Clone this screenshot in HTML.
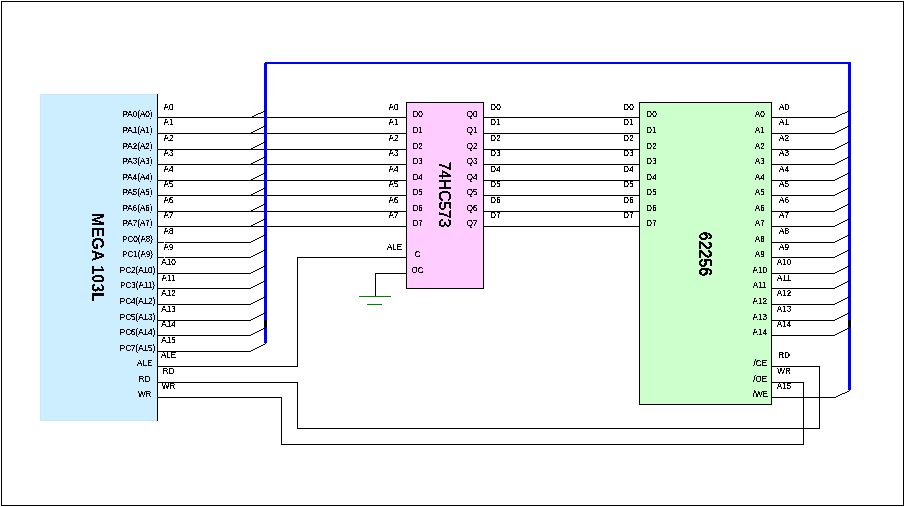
<!DOCTYPE html>
<html><head><meta charset="utf-8"><style>
html,body{margin:0;padding:0;background:#fff;width:905px;height:507px;overflow:hidden}
svg{position:absolute;left:0;top:0;display:block}
text{font-family:"Liberation Sans",sans-serif}
</style></head><body>
<svg width="905" height="507" viewBox="0 0 905 507">
<rect x="1" y="1" width="903" height="1" fill="#000"/>
<rect x="1" y="505" width="903" height="1" fill="#000"/>
<rect x="1" y="1" width="1" height="505" fill="#000"/>
<rect x="903" y="1" width="1" height="505" fill="#000"/>
<rect x="40" y="94" width="117" height="327" fill="#CCEEFF"/>
<rect x="157" y="94" width="1" height="327" fill="#000"/>
<rect x="40" y="94" width="117" height="1" fill="#C5E7FC"/>
<rect x="40" y="420" width="117" height="1" fill="#C5E7FC"/>
<rect x="40" y="94" width="1" height="327" fill="#C5E7FC"/>
<rect x="406" y="102" width="78" height="187" fill="#FFCCFF"/>
<rect x="639" y="102" width="133" height="303" fill="#CCFFCC"/>
<rect x="406" y="102" width="78" height="1" fill="#000"/>
<rect x="406" y="288" width="78" height="1" fill="#000"/>
<rect x="406" y="102" width="1" height="187" fill="#000"/>
<rect x="483" y="102" width="1" height="187" fill="#000"/>
<rect x="639" y="102" width="133" height="1" fill="#000"/>
<rect x="639" y="404" width="133" height="1" fill="#000"/>
<rect x="639" y="102" width="1" height="303" fill="#000"/>
<rect x="771" y="102" width="1" height="303" fill="#000"/>
<rect x="158" y="117" width="248" height="1" fill="#000"/>
<rect x="158" y="133" width="248" height="1" fill="#000"/>
<rect x="158" y="149" width="248" height="1" fill="#000"/>
<rect x="158" y="164" width="248" height="1" fill="#000"/>
<rect x="158" y="180" width="248" height="1" fill="#000"/>
<rect x="158" y="195" width="248" height="1" fill="#000"/>
<rect x="158" y="211" width="248" height="1" fill="#000"/>
<rect x="158" y="226" width="248" height="1" fill="#000"/>
<rect x="158" y="242" width="93" height="1" fill="#000"/>
<rect x="158" y="257" width="93" height="1" fill="#000"/>
<rect x="158" y="273" width="93" height="1" fill="#000"/>
<rect x="158" y="288" width="93" height="1" fill="#000"/>
<rect x="158" y="304" width="93" height="1" fill="#000"/>
<rect x="158" y="320" width="93" height="1" fill="#000"/>
<rect x="158" y="335" width="93" height="1" fill="#000"/>
<rect x="158" y="351" width="93" height="1" fill="#000"/>
<rect x="158" y="366" width="140" height="1" fill="#000"/>
<rect x="297" y="257" width="1" height="110" fill="#000"/>
<rect x="297" y="257" width="109" height="1" fill="#000"/>
<rect x="158" y="382" width="140" height="1" fill="#000"/>
<rect x="297" y="382" width="1" height="47" fill="#000"/>
<rect x="297" y="428" width="523" height="1" fill="#000"/>
<rect x="819" y="366" width="1" height="63" fill="#000"/>
<rect x="772" y="366" width="48" height="1" fill="#000"/>
<rect x="158" y="397" width="124" height="1" fill="#000"/>
<rect x="281" y="397" width="1" height="48" fill="#000"/>
<rect x="281" y="444" width="523" height="1" fill="#000"/>
<rect x="803" y="382" width="1" height="63" fill="#000"/>
<rect x="772" y="382" width="32" height="1" fill="#000"/>
<rect x="375" y="273" width="31" height="1" fill="#000"/>
<rect x="375" y="273" width="1" height="24" fill="#000"/>
<rect x="359" y="296" width="32" height="1" fill="#008000"/>
<rect x="367" y="304" width="15" height="1" fill="#008000"/>
<rect x="484" y="117" width="155" height="1" fill="#000"/>
<rect x="484" y="133" width="155" height="1" fill="#000"/>
<rect x="484" y="149" width="155" height="1" fill="#000"/>
<rect x="484" y="164" width="155" height="1" fill="#000"/>
<rect x="484" y="180" width="155" height="1" fill="#000"/>
<rect x="484" y="195" width="155" height="1" fill="#000"/>
<rect x="484" y="211" width="155" height="1" fill="#000"/>
<rect x="484" y="226" width="155" height="1" fill="#000"/>
<rect x="772" y="117" width="64" height="1" fill="#000"/>
<rect x="772" y="133" width="63" height="1" fill="#000"/>
<rect x="772" y="149" width="63" height="1" fill="#000"/>
<rect x="772" y="164" width="63" height="1" fill="#000"/>
<rect x="772" y="180" width="63" height="1" fill="#000"/>
<rect x="772" y="195" width="63" height="1" fill="#000"/>
<rect x="772" y="211" width="63" height="1" fill="#000"/>
<rect x="772" y="226" width="63" height="1" fill="#000"/>
<rect x="772" y="242" width="63" height="1" fill="#000"/>
<rect x="772" y="257" width="63" height="1" fill="#000"/>
<rect x="772" y="273" width="63" height="1" fill="#000"/>
<rect x="772" y="288" width="63" height="1" fill="#000"/>
<rect x="772" y="304" width="63" height="1" fill="#000"/>
<rect x="772" y="320" width="63" height="1" fill="#000"/>
<rect x="772" y="335" width="63" height="1" fill="#000"/>
<rect x="772" y="397" width="64" height="1" fill="#000"/>
<rect x="264" y="62" width="3" height="281" fill="#0000FF"/>
<rect x="264" y="62" width="587" height="2" fill="#0000FF"/>
<rect x="848" y="62" width="3" height="328" fill="#0000FF"/>
<rect x="264" y="320" width="3" height="7" fill="#000"/>
<rect x="848" y="320" width="3" height="7" fill="#000"/>
<rect x="264" y="62" width="1" height="1" fill="#fff"/>
<rect x="164" y="242" width="1" height="1" fill="#fff"/>
<rect x="164" y="257" width="1" height="1" fill="#fff"/>
<rect x="252" y="116" width="2" height="1" fill="#000"/>
<rect x="254" y="115" width="2" height="1" fill="#000"/>
<rect x="256" y="114" width="2" height="1" fill="#000"/>
<rect x="258" y="113" width="3" height="1" fill="#000"/>
<rect x="261" y="112" width="2" height="1" fill="#000"/>
<rect x="263" y="111" width="2" height="1" fill="#000"/>
<rect x="265" y="110" width="1" height="1" fill="#000"/>
<rect x="251" y="132" width="2" height="1" fill="#000"/>
<rect x="253" y="131" width="2" height="1" fill="#000"/>
<rect x="255" y="130" width="2" height="1" fill="#000"/>
<rect x="257" y="129" width="2" height="1" fill="#000"/>
<rect x="259" y="128" width="2" height="1" fill="#000"/>
<rect x="261" y="127" width="2" height="1" fill="#000"/>
<rect x="263" y="126" width="2" height="1" fill="#000"/>
<rect x="265" y="125" width="1" height="1" fill="#000"/>
<rect x="251" y="148" width="2" height="1" fill="#000"/>
<rect x="253" y="147" width="2" height="1" fill="#000"/>
<rect x="255" y="146" width="2" height="1" fill="#000"/>
<rect x="257" y="145" width="2" height="1" fill="#000"/>
<rect x="259" y="144" width="2" height="1" fill="#000"/>
<rect x="261" y="143" width="2" height="1" fill="#000"/>
<rect x="263" y="142" width="2" height="1" fill="#000"/>
<rect x="265" y="141" width="1" height="1" fill="#000"/>
<rect x="251" y="163" width="2" height="1" fill="#000"/>
<rect x="253" y="162" width="2" height="1" fill="#000"/>
<rect x="255" y="161" width="2" height="1" fill="#000"/>
<rect x="257" y="160" width="2" height="1" fill="#000"/>
<rect x="259" y="159" width="2" height="1" fill="#000"/>
<rect x="261" y="158" width="2" height="1" fill="#000"/>
<rect x="263" y="157" width="2" height="1" fill="#000"/>
<rect x="265" y="156" width="1" height="1" fill="#000"/>
<rect x="251" y="179" width="2" height="1" fill="#000"/>
<rect x="253" y="178" width="2" height="1" fill="#000"/>
<rect x="255" y="177" width="2" height="1" fill="#000"/>
<rect x="257" y="176" width="2" height="1" fill="#000"/>
<rect x="259" y="175" width="2" height="1" fill="#000"/>
<rect x="261" y="174" width="2" height="1" fill="#000"/>
<rect x="263" y="173" width="2" height="1" fill="#000"/>
<rect x="265" y="172" width="1" height="1" fill="#000"/>
<rect x="251" y="194" width="2" height="1" fill="#000"/>
<rect x="253" y="193" width="2" height="1" fill="#000"/>
<rect x="255" y="192" width="2" height="1" fill="#000"/>
<rect x="257" y="191" width="2" height="1" fill="#000"/>
<rect x="259" y="190" width="2" height="1" fill="#000"/>
<rect x="261" y="189" width="2" height="1" fill="#000"/>
<rect x="263" y="188" width="2" height="1" fill="#000"/>
<rect x="265" y="187" width="1" height="1" fill="#000"/>
<rect x="251" y="210" width="2" height="1" fill="#000"/>
<rect x="253" y="209" width="2" height="1" fill="#000"/>
<rect x="255" y="208" width="2" height="1" fill="#000"/>
<rect x="257" y="207" width="2" height="1" fill="#000"/>
<rect x="259" y="206" width="2" height="1" fill="#000"/>
<rect x="261" y="205" width="2" height="1" fill="#000"/>
<rect x="263" y="204" width="2" height="1" fill="#000"/>
<rect x="265" y="203" width="1" height="1" fill="#000"/>
<rect x="251" y="225" width="2" height="1" fill="#000"/>
<rect x="253" y="224" width="2" height="1" fill="#000"/>
<rect x="255" y="223" width="2" height="1" fill="#000"/>
<rect x="257" y="222" width="2" height="1" fill="#000"/>
<rect x="259" y="221" width="2" height="1" fill="#000"/>
<rect x="261" y="220" width="2" height="1" fill="#000"/>
<rect x="263" y="219" width="2" height="1" fill="#000"/>
<rect x="265" y="218" width="1" height="1" fill="#000"/>
<rect x="251" y="241" width="2" height="1" fill="#000"/>
<rect x="253" y="240" width="2" height="1" fill="#000"/>
<rect x="255" y="239" width="2" height="1" fill="#000"/>
<rect x="257" y="238" width="2" height="1" fill="#000"/>
<rect x="259" y="237" width="2" height="1" fill="#000"/>
<rect x="261" y="236" width="2" height="1" fill="#000"/>
<rect x="263" y="235" width="2" height="1" fill="#000"/>
<rect x="265" y="234" width="1" height="1" fill="#000"/>
<rect x="251" y="256" width="2" height="1" fill="#000"/>
<rect x="253" y="255" width="2" height="1" fill="#000"/>
<rect x="255" y="254" width="2" height="1" fill="#000"/>
<rect x="257" y="253" width="2" height="1" fill="#000"/>
<rect x="259" y="252" width="2" height="1" fill="#000"/>
<rect x="261" y="251" width="2" height="1" fill="#000"/>
<rect x="263" y="250" width="2" height="1" fill="#000"/>
<rect x="265" y="249" width="1" height="1" fill="#000"/>
<rect x="251" y="272" width="2" height="1" fill="#000"/>
<rect x="253" y="271" width="2" height="1" fill="#000"/>
<rect x="255" y="270" width="2" height="1" fill="#000"/>
<rect x="257" y="269" width="2" height="1" fill="#000"/>
<rect x="259" y="268" width="2" height="1" fill="#000"/>
<rect x="261" y="267" width="2" height="1" fill="#000"/>
<rect x="263" y="266" width="2" height="1" fill="#000"/>
<rect x="265" y="265" width="1" height="1" fill="#000"/>
<rect x="251" y="287" width="2" height="1" fill="#000"/>
<rect x="253" y="286" width="2" height="1" fill="#000"/>
<rect x="255" y="285" width="2" height="1" fill="#000"/>
<rect x="257" y="284" width="2" height="1" fill="#000"/>
<rect x="259" y="283" width="2" height="1" fill="#000"/>
<rect x="261" y="282" width="2" height="1" fill="#000"/>
<rect x="263" y="281" width="2" height="1" fill="#000"/>
<rect x="265" y="280" width="1" height="1" fill="#000"/>
<rect x="251" y="303" width="2" height="1" fill="#000"/>
<rect x="253" y="302" width="2" height="1" fill="#000"/>
<rect x="255" y="301" width="2" height="1" fill="#000"/>
<rect x="257" y="300" width="2" height="1" fill="#000"/>
<rect x="259" y="299" width="2" height="1" fill="#000"/>
<rect x="261" y="298" width="2" height="1" fill="#000"/>
<rect x="263" y="297" width="2" height="1" fill="#000"/>
<rect x="265" y="296" width="1" height="1" fill="#000"/>
<rect x="251" y="319" width="2" height="1" fill="#000"/>
<rect x="253" y="318" width="2" height="1" fill="#000"/>
<rect x="255" y="317" width="2" height="1" fill="#000"/>
<rect x="257" y="316" width="2" height="1" fill="#000"/>
<rect x="259" y="315" width="2" height="1" fill="#000"/>
<rect x="261" y="314" width="2" height="1" fill="#000"/>
<rect x="263" y="313" width="2" height="1" fill="#000"/>
<rect x="265" y="312" width="1" height="1" fill="#000"/>
<rect x="251" y="334" width="2" height="1" fill="#000"/>
<rect x="253" y="333" width="2" height="1" fill="#000"/>
<rect x="255" y="332" width="2" height="1" fill="#000"/>
<rect x="257" y="331" width="2" height="1" fill="#000"/>
<rect x="259" y="330" width="2" height="1" fill="#000"/>
<rect x="261" y="329" width="2" height="1" fill="#000"/>
<rect x="263" y="328" width="2" height="1" fill="#000"/>
<rect x="265" y="327" width="1" height="1" fill="#000"/>
<rect x="251" y="350" width="2" height="1" fill="#000"/>
<rect x="253" y="349" width="2" height="1" fill="#000"/>
<rect x="255" y="348" width="2" height="1" fill="#000"/>
<rect x="257" y="347" width="2" height="1" fill="#000"/>
<rect x="259" y="346" width="2" height="1" fill="#000"/>
<rect x="261" y="345" width="2" height="1" fill="#000"/>
<rect x="263" y="344" width="2" height="1" fill="#000"/>
<rect x="265" y="343" width="1" height="1" fill="#000"/>
<rect x="836" y="116" width="2" height="1" fill="#000"/>
<rect x="838" y="115" width="2" height="1" fill="#000"/>
<rect x="840" y="114" width="2" height="1" fill="#000"/>
<rect x="842" y="113" width="3" height="1" fill="#000"/>
<rect x="845" y="112" width="2" height="1" fill="#000"/>
<rect x="847" y="111" width="2" height="1" fill="#000"/>
<rect x="849" y="110" width="1" height="1" fill="#000"/>
<rect x="835" y="132" width="2" height="1" fill="#000"/>
<rect x="837" y="131" width="2" height="1" fill="#000"/>
<rect x="839" y="130" width="2" height="1" fill="#000"/>
<rect x="841" y="129" width="2" height="1" fill="#000"/>
<rect x="843" y="128" width="2" height="1" fill="#000"/>
<rect x="845" y="127" width="2" height="1" fill="#000"/>
<rect x="847" y="126" width="2" height="1" fill="#000"/>
<rect x="849" y="125" width="1" height="1" fill="#000"/>
<rect x="835" y="148" width="2" height="1" fill="#000"/>
<rect x="837" y="147" width="2" height="1" fill="#000"/>
<rect x="839" y="146" width="2" height="1" fill="#000"/>
<rect x="841" y="145" width="2" height="1" fill="#000"/>
<rect x="843" y="144" width="2" height="1" fill="#000"/>
<rect x="845" y="143" width="2" height="1" fill="#000"/>
<rect x="847" y="142" width="2" height="1" fill="#000"/>
<rect x="849" y="141" width="1" height="1" fill="#000"/>
<rect x="835" y="163" width="2" height="1" fill="#000"/>
<rect x="837" y="162" width="2" height="1" fill="#000"/>
<rect x="839" y="161" width="2" height="1" fill="#000"/>
<rect x="841" y="160" width="2" height="1" fill="#000"/>
<rect x="843" y="159" width="2" height="1" fill="#000"/>
<rect x="845" y="158" width="2" height="1" fill="#000"/>
<rect x="847" y="157" width="2" height="1" fill="#000"/>
<rect x="849" y="156" width="1" height="1" fill="#000"/>
<rect x="835" y="179" width="2" height="1" fill="#000"/>
<rect x="837" y="178" width="2" height="1" fill="#000"/>
<rect x="839" y="177" width="2" height="1" fill="#000"/>
<rect x="841" y="176" width="2" height="1" fill="#000"/>
<rect x="843" y="175" width="2" height="1" fill="#000"/>
<rect x="845" y="174" width="2" height="1" fill="#000"/>
<rect x="847" y="173" width="2" height="1" fill="#000"/>
<rect x="849" y="172" width="1" height="1" fill="#000"/>
<rect x="835" y="194" width="2" height="1" fill="#000"/>
<rect x="837" y="193" width="2" height="1" fill="#000"/>
<rect x="839" y="192" width="2" height="1" fill="#000"/>
<rect x="841" y="191" width="2" height="1" fill="#000"/>
<rect x="843" y="190" width="2" height="1" fill="#000"/>
<rect x="845" y="189" width="2" height="1" fill="#000"/>
<rect x="847" y="188" width="2" height="1" fill="#000"/>
<rect x="849" y="187" width="1" height="1" fill="#000"/>
<rect x="835" y="210" width="2" height="1" fill="#000"/>
<rect x="837" y="209" width="2" height="1" fill="#000"/>
<rect x="839" y="208" width="2" height="1" fill="#000"/>
<rect x="841" y="207" width="2" height="1" fill="#000"/>
<rect x="843" y="206" width="2" height="1" fill="#000"/>
<rect x="845" y="205" width="2" height="1" fill="#000"/>
<rect x="847" y="204" width="2" height="1" fill="#000"/>
<rect x="849" y="203" width="1" height="1" fill="#000"/>
<rect x="835" y="225" width="2" height="1" fill="#000"/>
<rect x="837" y="224" width="2" height="1" fill="#000"/>
<rect x="839" y="223" width="2" height="1" fill="#000"/>
<rect x="841" y="222" width="2" height="1" fill="#000"/>
<rect x="843" y="221" width="2" height="1" fill="#000"/>
<rect x="845" y="220" width="2" height="1" fill="#000"/>
<rect x="847" y="219" width="2" height="1" fill="#000"/>
<rect x="849" y="218" width="1" height="1" fill="#000"/>
<rect x="835" y="241" width="2" height="1" fill="#000"/>
<rect x="837" y="240" width="2" height="1" fill="#000"/>
<rect x="839" y="239" width="2" height="1" fill="#000"/>
<rect x="841" y="238" width="2" height="1" fill="#000"/>
<rect x="843" y="237" width="2" height="1" fill="#000"/>
<rect x="845" y="236" width="2" height="1" fill="#000"/>
<rect x="847" y="235" width="2" height="1" fill="#000"/>
<rect x="849" y="234" width="1" height="1" fill="#000"/>
<rect x="835" y="256" width="2" height="1" fill="#000"/>
<rect x="837" y="255" width="2" height="1" fill="#000"/>
<rect x="839" y="254" width="2" height="1" fill="#000"/>
<rect x="841" y="253" width="2" height="1" fill="#000"/>
<rect x="843" y="252" width="2" height="1" fill="#000"/>
<rect x="845" y="251" width="2" height="1" fill="#000"/>
<rect x="847" y="250" width="2" height="1" fill="#000"/>
<rect x="849" y="249" width="1" height="1" fill="#000"/>
<rect x="835" y="272" width="2" height="1" fill="#000"/>
<rect x="837" y="271" width="2" height="1" fill="#000"/>
<rect x="839" y="270" width="2" height="1" fill="#000"/>
<rect x="841" y="269" width="2" height="1" fill="#000"/>
<rect x="843" y="268" width="2" height="1" fill="#000"/>
<rect x="845" y="267" width="2" height="1" fill="#000"/>
<rect x="847" y="266" width="2" height="1" fill="#000"/>
<rect x="849" y="265" width="1" height="1" fill="#000"/>
<rect x="835" y="287" width="2" height="1" fill="#000"/>
<rect x="837" y="286" width="2" height="1" fill="#000"/>
<rect x="839" y="285" width="2" height="1" fill="#000"/>
<rect x="841" y="284" width="2" height="1" fill="#000"/>
<rect x="843" y="283" width="2" height="1" fill="#000"/>
<rect x="845" y="282" width="2" height="1" fill="#000"/>
<rect x="847" y="281" width="2" height="1" fill="#000"/>
<rect x="849" y="280" width="1" height="1" fill="#000"/>
<rect x="835" y="303" width="2" height="1" fill="#000"/>
<rect x="837" y="302" width="2" height="1" fill="#000"/>
<rect x="839" y="301" width="2" height="1" fill="#000"/>
<rect x="841" y="300" width="2" height="1" fill="#000"/>
<rect x="843" y="299" width="2" height="1" fill="#000"/>
<rect x="845" y="298" width="2" height="1" fill="#000"/>
<rect x="847" y="297" width="2" height="1" fill="#000"/>
<rect x="849" y="296" width="1" height="1" fill="#000"/>
<rect x="835" y="319" width="2" height="1" fill="#000"/>
<rect x="837" y="318" width="2" height="1" fill="#000"/>
<rect x="839" y="317" width="2" height="1" fill="#000"/>
<rect x="841" y="316" width="2" height="1" fill="#000"/>
<rect x="843" y="315" width="2" height="1" fill="#000"/>
<rect x="845" y="314" width="2" height="1" fill="#000"/>
<rect x="847" y="313" width="2" height="1" fill="#000"/>
<rect x="849" y="312" width="1" height="1" fill="#000"/>
<rect x="835" y="334" width="2" height="1" fill="#000"/>
<rect x="837" y="333" width="2" height="1" fill="#000"/>
<rect x="839" y="332" width="2" height="1" fill="#000"/>
<rect x="841" y="331" width="2" height="1" fill="#000"/>
<rect x="843" y="330" width="2" height="1" fill="#000"/>
<rect x="845" y="329" width="2" height="1" fill="#000"/>
<rect x="847" y="328" width="2" height="1" fill="#000"/>
<rect x="849" y="327" width="1" height="1" fill="#000"/>
<rect x="836" y="396" width="2" height="1" fill="#000"/>
<rect x="838" y="395" width="2" height="1" fill="#000"/>
<rect x="840" y="394" width="2" height="1" fill="#000"/>
<rect x="842" y="393" width="3" height="1" fill="#000"/>
<rect x="845" y="392" width="2" height="1" fill="#000"/>
<rect x="847" y="391" width="2" height="1" fill="#000"/>
<rect x="849" y="390" width="1" height="1" fill="#000"/>
<defs><filter id="crisp" x="0" y="0" width="100%" height="100%" filterUnits="userSpaceOnUse"><feComponentTransfer><feFuncA type="discrete" tableValues="0 0 0 0 0 0 0 1 1 1 1 1 1 1 1 1 1 1 1 1"/></feComponentTransfer></filter><filter id="crisp3" x="0" y="0" width="100%" height="100%" filterUnits="userSpaceOnUse"><feComponentTransfer><feFuncA type="discrete" tableValues="0 0 1 1 1 1 1 1 1 1"/></feComponentTransfer></filter><filter id="crisp2" x="0" y="0" width="100%" height="100%" filterUnits="userSpaceOnUse"><feComponentTransfer><feFuncA type="discrete" tableValues="0 0 0 0 0 1 1 1 1 1"/></feComponentTransfer></filter></defs>
<g font-family="Liberation Sans" fill="#000" filter="url(#crisp)">
<text transform="translate(137.5,117) scale(0.95,1)" font-size="8.5" text-anchor="middle">PA0(A0)</text>
<text transform="translate(137.5,133) scale(0.95,1)" font-size="8.5" text-anchor="middle">PA1(A1)</text>
<text transform="translate(137.5,149) scale(0.95,1)" font-size="8.5" text-anchor="middle">PA2(A2)</text>
<text transform="translate(137.5,164) scale(0.95,1)" font-size="8.5" text-anchor="middle">PA3(A3)</text>
<text transform="translate(137.5,180) scale(0.95,1)" font-size="8.5" text-anchor="middle">PA4(A4)</text>
<text transform="translate(137.5,195) scale(0.95,1)" font-size="8.5" text-anchor="middle">PA5(A5)</text>
<text transform="translate(137.5,211) scale(0.95,1)" font-size="8.5" text-anchor="middle">PA6(A6)</text>
<text transform="translate(137.5,226) scale(0.95,1)" font-size="8.5" text-anchor="middle">PA7(A7)</text>
<text transform="translate(137.5,242) scale(0.95,1)" font-size="8.5" text-anchor="middle">PC0(A8)</text>
<text transform="translate(137.5,257) scale(0.95,1)" font-size="8.5" text-anchor="middle">PC1(A9)</text>
<text transform="translate(137.5,273) scale(0.95,1)" font-size="8.5" text-anchor="middle">PC2(A10)</text>
<text transform="translate(137.5,288) scale(0.95,1)" font-size="8.5" text-anchor="middle">PC3(A11)</text>
<text transform="translate(137.5,304) scale(0.95,1)" font-size="8.5" text-anchor="middle">PC4(A12)</text>
<text transform="translate(137.5,320) scale(0.95,1)" font-size="8.5" text-anchor="middle">PC5(A13)</text>
<text transform="translate(137.5,335) scale(0.95,1)" font-size="8.5" text-anchor="middle">PC6(A14)</text>
<text transform="translate(137.5,351) scale(0.95,1)" font-size="8.5" text-anchor="middle">PC7(A15)</text>
<text transform="translate(144.7,366) scale(0.95,1)" font-size="8.5" text-anchor="middle">ALE</text>
<text transform="translate(144.7,382) scale(0.95,1)" font-size="8.5" text-anchor="middle">RD</text>
<text transform="translate(144.7,397) scale(0.95,1)" font-size="8.5" text-anchor="middle">WR</text>
<text transform="translate(168.5,110) scale(0.95,1)" font-size="8.5" text-anchor="middle">A0</text>
<text transform="translate(168.5,125) scale(0.95,1)" font-size="8.5" text-anchor="middle">A1</text>
<text transform="translate(168.5,141) scale(0.95,1)" font-size="8.5" text-anchor="middle">A2</text>
<text transform="translate(168.5,156) scale(0.95,1)" font-size="8.5" text-anchor="middle">A3</text>
<text transform="translate(168.5,172) scale(0.95,1)" font-size="8.5" text-anchor="middle">A4</text>
<text transform="translate(168.5,187) scale(0.95,1)" font-size="8.5" text-anchor="middle">A5</text>
<text transform="translate(168.5,203) scale(0.95,1)" font-size="8.5" text-anchor="middle">A6</text>
<text transform="translate(168.5,218) scale(0.95,1)" font-size="8.5" text-anchor="middle">A7</text>
<text transform="translate(168.5,234) scale(0.95,1)" font-size="8.5" text-anchor="middle">A8</text>
<text transform="translate(168.5,250) scale(0.95,1)" font-size="8.5" text-anchor="middle">A9</text>
<text transform="translate(168.5,265) scale(0.95,1)" font-size="8.5" text-anchor="middle">A10</text>
<text transform="translate(168.5,281) scale(0.95,1)" font-size="8.5" text-anchor="middle">A11</text>
<text transform="translate(168.5,296) scale(0.95,1)" font-size="8.5" text-anchor="middle">A12</text>
<text transform="translate(168.5,312) scale(0.95,1)" font-size="8.5" text-anchor="middle">A13</text>
<text transform="translate(168.5,327) scale(0.95,1)" font-size="8.5" text-anchor="middle">A14</text>
<text transform="translate(168.5,343) scale(0.95,1)" font-size="8.5" text-anchor="middle">A15</text>
<text transform="translate(168.5,358) scale(0.95,1)" font-size="8.5" text-anchor="middle">ALE</text>
<text transform="translate(168.5,374) scale(0.95,1)" font-size="8.5" text-anchor="middle">RD</text>
<text transform="translate(168.5,389) scale(0.95,1)" font-size="8.5" text-anchor="middle">WR</text>
<text transform="translate(393.5,110) scale(0.95,1)" font-size="8.5" text-anchor="middle">A0</text>
<text transform="translate(417.6,117) scale(0.95,1)" font-size="8.5" text-anchor="middle">D0</text>
<text transform="translate(472.2,117) scale(0.95,1)" font-size="8.5" text-anchor="middle">Q0</text>
<text transform="translate(495.5,110) scale(0.95,1)" font-size="8.5" text-anchor="middle">D0</text>
<text transform="translate(628.5,110) scale(0.95,1)" font-size="8.5" text-anchor="middle">D0</text>
<text transform="translate(651.5,117) scale(0.95,1)" font-size="8.5" text-anchor="middle">D0</text>
<text transform="translate(393.5,125) scale(0.95,1)" font-size="8.5" text-anchor="middle">A1</text>
<text transform="translate(417.6,133) scale(0.95,1)" font-size="8.5" text-anchor="middle">D1</text>
<text transform="translate(472.2,133) scale(0.95,1)" font-size="8.5" text-anchor="middle">Q1</text>
<text transform="translate(495.5,125) scale(0.95,1)" font-size="8.5" text-anchor="middle">D1</text>
<text transform="translate(628.5,125) scale(0.95,1)" font-size="8.5" text-anchor="middle">D1</text>
<text transform="translate(651.5,133) scale(0.95,1)" font-size="8.5" text-anchor="middle">D1</text>
<text transform="translate(393.5,141) scale(0.95,1)" font-size="8.5" text-anchor="middle">A2</text>
<text transform="translate(417.6,149) scale(0.95,1)" font-size="8.5" text-anchor="middle">D2</text>
<text transform="translate(472.2,149) scale(0.95,1)" font-size="8.5" text-anchor="middle">Q2</text>
<text transform="translate(495.5,141) scale(0.95,1)" font-size="8.5" text-anchor="middle">D2</text>
<text transform="translate(628.5,141) scale(0.95,1)" font-size="8.5" text-anchor="middle">D2</text>
<text transform="translate(651.5,149) scale(0.95,1)" font-size="8.5" text-anchor="middle">D2</text>
<text transform="translate(393.5,156) scale(0.95,1)" font-size="8.5" text-anchor="middle">A3</text>
<text transform="translate(417.6,164) scale(0.95,1)" font-size="8.5" text-anchor="middle">D3</text>
<text transform="translate(472.2,164) scale(0.95,1)" font-size="8.5" text-anchor="middle">Q3</text>
<text transform="translate(495.5,156) scale(0.95,1)" font-size="8.5" text-anchor="middle">D3</text>
<text transform="translate(628.5,156) scale(0.95,1)" font-size="8.5" text-anchor="middle">D3</text>
<text transform="translate(651.5,164) scale(0.95,1)" font-size="8.5" text-anchor="middle">D3</text>
<text transform="translate(393.5,172) scale(0.95,1)" font-size="8.5" text-anchor="middle">A4</text>
<text transform="translate(417.6,180) scale(0.95,1)" font-size="8.5" text-anchor="middle">D4</text>
<text transform="translate(472.2,180) scale(0.95,1)" font-size="8.5" text-anchor="middle">Q4</text>
<text transform="translate(495.5,172) scale(0.95,1)" font-size="8.5" text-anchor="middle">D4</text>
<text transform="translate(628.5,172) scale(0.95,1)" font-size="8.5" text-anchor="middle">D4</text>
<text transform="translate(651.5,180) scale(0.95,1)" font-size="8.5" text-anchor="middle">D4</text>
<text transform="translate(393.5,187) scale(0.95,1)" font-size="8.5" text-anchor="middle">A5</text>
<text transform="translate(417.6,195) scale(0.95,1)" font-size="8.5" text-anchor="middle">D5</text>
<text transform="translate(472.2,195) scale(0.95,1)" font-size="8.5" text-anchor="middle">Q5</text>
<text transform="translate(495.5,187) scale(0.95,1)" font-size="8.5" text-anchor="middle">D5</text>
<text transform="translate(628.5,187) scale(0.95,1)" font-size="8.5" text-anchor="middle">D5</text>
<text transform="translate(651.5,195) scale(0.95,1)" font-size="8.5" text-anchor="middle">D5</text>
<text transform="translate(393.5,203) scale(0.95,1)" font-size="8.5" text-anchor="middle">A6</text>
<text transform="translate(417.6,211) scale(0.95,1)" font-size="8.5" text-anchor="middle">D6</text>
<text transform="translate(472.2,211) scale(0.95,1)" font-size="8.5" text-anchor="middle">Q6</text>
<text transform="translate(495.5,203) scale(0.95,1)" font-size="8.5" text-anchor="middle">D6</text>
<text transform="translate(628.5,203) scale(0.95,1)" font-size="8.5" text-anchor="middle">D6</text>
<text transform="translate(651.5,211) scale(0.95,1)" font-size="8.5" text-anchor="middle">D6</text>
<text transform="translate(393.5,218) scale(0.95,1)" font-size="8.5" text-anchor="middle">A7</text>
<text transform="translate(417.6,226) scale(0.95,1)" font-size="8.5" text-anchor="middle">D7</text>
<text transform="translate(472.2,226) scale(0.95,1)" font-size="8.5" text-anchor="middle">Q7</text>
<text transform="translate(495.5,218) scale(0.95,1)" font-size="8.5" text-anchor="middle">D7</text>
<text transform="translate(628.5,218) scale(0.95,1)" font-size="8.5" text-anchor="middle">D7</text>
<text transform="translate(651.5,226) scale(0.95,1)" font-size="8.5" text-anchor="middle">D7</text>
<text transform="translate(394.5,250) scale(0.95,1)" font-size="8.5" text-anchor="middle">ALE</text>
<text transform="translate(417.6,257) scale(0.95,1)" font-size="8.5" text-anchor="middle">C</text>
<text transform="translate(417.6,273) scale(0.95,1)" font-size="8.5" text-anchor="middle">OC</text>
<text transform="translate(759.7,117) scale(0.95,1)" font-size="8.5" text-anchor="middle">A0</text>
<text transform="translate(784,110) scale(0.95,1)" font-size="8.5" text-anchor="middle">A0</text>
<text transform="translate(759.7,133) scale(0.95,1)" font-size="8.5" text-anchor="middle">A1</text>
<text transform="translate(784,125) scale(0.95,1)" font-size="8.5" text-anchor="middle">A1</text>
<text transform="translate(759.7,149) scale(0.95,1)" font-size="8.5" text-anchor="middle">A2</text>
<text transform="translate(784,141) scale(0.95,1)" font-size="8.5" text-anchor="middle">A2</text>
<text transform="translate(759.7,164) scale(0.95,1)" font-size="8.5" text-anchor="middle">A3</text>
<text transform="translate(784,156) scale(0.95,1)" font-size="8.5" text-anchor="middle">A3</text>
<text transform="translate(759.7,180) scale(0.95,1)" font-size="8.5" text-anchor="middle">A4</text>
<text transform="translate(784,172) scale(0.95,1)" font-size="8.5" text-anchor="middle">A4</text>
<text transform="translate(759.7,195) scale(0.95,1)" font-size="8.5" text-anchor="middle">A5</text>
<text transform="translate(784,187) scale(0.95,1)" font-size="8.5" text-anchor="middle">A5</text>
<text transform="translate(759.7,211) scale(0.95,1)" font-size="8.5" text-anchor="middle">A6</text>
<text transform="translate(784,203) scale(0.95,1)" font-size="8.5" text-anchor="middle">A6</text>
<text transform="translate(759.7,226) scale(0.95,1)" font-size="8.5" text-anchor="middle">A7</text>
<text transform="translate(784,218) scale(0.95,1)" font-size="8.5" text-anchor="middle">A7</text>
<text transform="translate(759.7,242) scale(0.95,1)" font-size="8.5" text-anchor="middle">A8</text>
<text transform="translate(784,234) scale(0.95,1)" font-size="8.5" text-anchor="middle">A8</text>
<text transform="translate(759.7,257) scale(0.95,1)" font-size="8.5" text-anchor="middle">A9</text>
<text transform="translate(784,250) scale(0.95,1)" font-size="8.5" text-anchor="middle">A9</text>
<text transform="translate(759.7,273) scale(0.95,1)" font-size="8.5" text-anchor="middle">A10</text>
<text transform="translate(784,265) scale(0.95,1)" font-size="8.5" text-anchor="middle">A10</text>
<text transform="translate(759.7,288) scale(0.95,1)" font-size="8.5" text-anchor="middle">A11</text>
<text transform="translate(784,281) scale(0.95,1)" font-size="8.5" text-anchor="middle">A11</text>
<text transform="translate(759.7,304) scale(0.95,1)" font-size="8.5" text-anchor="middle">A12</text>
<text transform="translate(784,296) scale(0.95,1)" font-size="8.5" text-anchor="middle">A12</text>
<text transform="translate(759.7,320) scale(0.95,1)" font-size="8.5" text-anchor="middle">A13</text>
<text transform="translate(784,312) scale(0.95,1)" font-size="8.5" text-anchor="middle">A13</text>
<text transform="translate(759.7,335) scale(0.95,1)" font-size="8.5" text-anchor="middle">A14</text>
<text transform="translate(784,327) scale(0.95,1)" font-size="8.5" text-anchor="middle">A14</text>
<text transform="translate(760.3,366) scale(0.95,1)" font-size="8.5" text-anchor="middle">/CE</text>
<text transform="translate(760.3,382) scale(0.95,1)" font-size="8.5" text-anchor="middle">/OE</text>
<text transform="translate(760.3,397) scale(0.95,1)" font-size="8.5" text-anchor="middle">/WE</text>
<text transform="translate(784,358) scale(0.95,1)" font-size="8.5" text-anchor="middle">RD</text>
<text transform="translate(784,374) scale(0.95,1)" font-size="8.5" text-anchor="middle">WR</text>
<text transform="translate(784,389) scale(0.95,1)" font-size="8.5" text-anchor="middle">A15</text>
</g><g font-family="Liberation Sans" fill="#000" filter="url(#crisp2)">
<text x="0" y="0" font-size="17" font-weight="bold" text-anchor="middle" transform="translate(98,257.5) rotate(90) scale(0.95,1)" dominant-baseline="central">MEGA 103L</text>
</g><g font-family="Liberation Sans" fill="#000" filter="url(#crisp3)">
<text x="0" y="0" font-size="16" font-weight="normal" text-anchor="middle" transform="translate(444.5,194.5) rotate(90) scale(0.97,1)" dominant-baseline="central">74HC573</text>
<text x="0" y="0" font-size="16" font-weight="normal" text-anchor="middle" transform="translate(705.5,254) rotate(90) scale(1,1)" dominant-baseline="central">62256</text>
</g>
</svg></body></html>
